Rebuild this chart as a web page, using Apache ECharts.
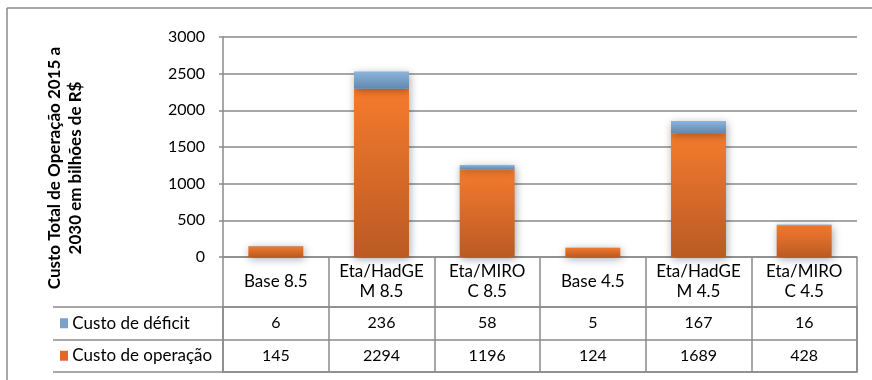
<!DOCTYPE html>
<html>
<head>
<meta charset="utf-8">
<script src="https://cdn.jsdelivr.net/npm/echarts@6/dist/echarts.min.js"></script>
<style>
  html, body { margin: 0; padding: 0; background: #fff; }
  #main { width: 872px; height: 380px; }
</style>
</head>
<body>
<div id="main"></div>
<script>
// dados do gráfico
const cenarios = ['Base 8.5', 'Eta/HadGE\nM 8.5', 'Eta/MIRO\nC 8.5', 'Base 4.5', 'Eta/HadGE\nM 4.5', 'Eta/MIRO\nC 4.5']
const custoDeficit = [6, 236, 58, 5, 167, 16]
const custoOperacao = [145, 2294, 1196, 124, 1689, 428]
const linhasTabela = ['Custo de déficit', 'Custo de operação']
const yTicks = [0, 500, 1000, 1500, 2000, 2500, 3000]

const FONT = 'Lato'
const GRAY = '#8a8a8a'

var chart = echarts.init(document.getElementById('main'))

// celulas da tabela: [coluna, linha, valor]
var celulas = []
custoDeficit.forEach(function (v, i) { celulas.push([i, 0, v]) })
custoOperacao.forEach(function (v, i) { celulas.push([i, 1, v]) })

var laranja = new echarts.graphic.LinearGradient(0, 0, 0, 1, [
  { offset: 0, color: '#f47b2d' },
  { offset: 1, color: '#bb5a24' },
])
var azul = new echarts.graphic.LinearGradient(0, 0, 0, 1, [
  { offset: 0, color: '#8db4dc' },
  { offset: 1, color: '#6188af' },
])
var sombra = {
  shadowBlur: 8,
  shadowColor: 'rgba(0,0,0,0.35)',
  shadowOffsetX: 1,
  shadowOffsetY: 2,
}

var option = {
  animation: false,
  textStyle: { fontFamily: FONT },
  grid: [
    { left: 223, right: 15, top: 37, height: 220 },
    { left: 223, right: 15, top: 307, height: 65 },
  ],
  xAxis: [
    {
      type: 'category',
      gridIndex: 0,
      data: cenarios,
      axisLine: { show: true, lineStyle: { color: GRAY, width: 1.5 } },
      axisTick: { show: true, length: 50, interval: 0, lineStyle: { color: GRAY, width: 1.5 } },
      axisLabel: {
        interval: 0,
        margin: 25,
        verticalAlign: 'middle',
        fontSize: 17,
        lineHeight: 20,
        color: '#000',
        fontFamily: FONT,
      },
    },
    {
      type: 'category',
      gridIndex: 1,
      data: cenarios,
      axisLine: { show: true, lineStyle: { color: GRAY, width: 1.5 } },
      axisTick: { show: false },
      axisLabel: { show: false },
      splitLine: { show: true, interval: 0, lineStyle: { color: GRAY, width: 1.5 } },
    },
    {
      type: 'category',
      gridIndex: 1,
      position: 'top',
      data: cenarios,
      axisLine: { show: true, lineStyle: { color: GRAY, width: 1.5 } },
      axisTick: { show: false },
      axisLabel: { show: false },
    },
  ],
  yAxis: [
    {
      type: 'value',
      gridIndex: 0,
      min: yTicks[0],
      max: yTicks[yTicks.length - 1],
      interval: 500,
      axisLine: { show: true, lineStyle: { color: GRAY, width: 1.5 } },
      axisTick: { show: true, length: 4, lineStyle: { color: GRAY, width: 1.5 } },
      splitLine: { show: true, lineStyle: { color: GRAY, width: 1.5 } },
      axisLabel: {
        margin: 18,
        fontSize: 16,
        color: '#000',
        fontFamily: FONT,
        formatter: function (v) { return String(v) },
      },
    },
    {
      type: 'category',
      gridIndex: 1,
      inverse: true,
      data: linhasTabela,
      axisLine: { show: true, lineStyle: { color: GRAY, width: 1.5 } },
      axisTick: { show: true, length: 170, interval: 0, lineStyle: { color: GRAY, width: 1.5 } },
      splitLine: { show: true, interval: 0, lineStyle: { color: GRAY, width: 1.5 } },
      axisLabel: {
        margin: 163,
        align: 'left',
        fontSize: 17,
        color: '#000',
        fontFamily: FONT,
        formatter: function (v, i) {
          return (i === 0 ? '{az|}' : '{la|}') + ' ' + v
        },
        rich: {
          az: { width: 8, height: 10, backgroundColor: '#7aa2cb' },
          la: { width: 8, height: 10, backgroundColor: '#e2692a' },
        },
      },
    },
    {
      type: 'category',
      gridIndex: 1,
      data: linhasTabela,
      offset: 170,
      axisLine: { show: true, lineStyle: { color: GRAY, width: 1.5 } },
      axisTick: { show: false },
      axisLabel: { show: false },
    },
    {
      type: 'category',
      gridIndex: 1,
      position: 'right',
      data: linhasTabela,
      axisLine: { show: true, lineStyle: { color: GRAY, width: 1.5 } },
      axisTick: { show: false },
      axisLabel: { show: false },
    },
  ],
  graphic: [
    { type: 'line', shape: { x1: 7, y1: 8, x2: 7, y2: 380 }, style: { stroke: GRAY, lineWidth: 1.5 } },
    { type: 'line', shape: { x1: 7, y1: 8, x2: 872, y2: 8 }, style: { stroke: GRAY, lineWidth: 1.5 } },
    {
      type: 'text',
      x: 65,
      y: 168,
      rotation: Math.PI / 2,
      style: {
        text: 'Custo Total de Operação 2015 a\n2030 em bilhões de R$',
        font: 'bold 17px ' + FONT,
        fill: '#000',
        align: 'center',
        verticalAlign: 'middle',
        lineHeight: 21,
      },
    },
  ],
  series: [
    {
      name: 'Custo de operação',
      type: 'bar',
      stack: 'total',
      barWidth: '52%',
      xAxisIndex: 0,
      yAxisIndex: 0,
      data: custoOperacao,
      itemStyle: Object.assign({ color: laranja }, sombra),
    },
    {
      name: 'Custo de déficit',
      type: 'bar',
      stack: 'total',
      barWidth: '52%',
      xAxisIndex: 0,
      yAxisIndex: 0,
      data: custoDeficit,
      itemStyle: Object.assign({ color: azul }, sombra),
    },
    {
      name: 'tabela',
      type: 'custom',
      xAxisIndex: 1,
      yAxisIndex: 1,
      data: celulas,
      renderItem: function (params, api) {
        var p = api.coord([api.value(0), api.value(1)])
        return {
          type: 'text',
          x: p[0],
          y: p[1],
          style: {
            text: String(api.value(2)),
            font: '16px ' + FONT,
            fill: '#000',
            align: 'center',
            verticalAlign: 'middle',
          },
        }
      },
    },
  ],
}

option && chart.setOption(option)
</script>
</body>
</html>
